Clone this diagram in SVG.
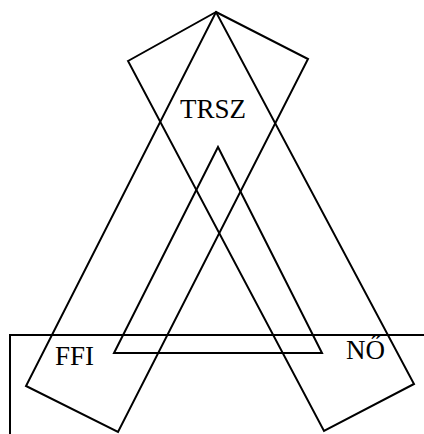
<svg xmlns="http://www.w3.org/2000/svg" width="424" height="434" viewBox="0 0 424 434">
  <style>
    .shape { fill: none; stroke: #000; stroke-width: 2; stroke-linejoin: miter; }
    .label { font-family: "Liberation Serif", "Times New Roman", serif; font-size: 27px; fill: #000; }
  </style>
  <rect width="424" height="434" fill="#fff"/>
  <g id="frame">
    <polyline class="shape" points="10,434 10,335 424,335"/>
  </g>
  <g id="band-right">
    <polygon class="shape" points="128,61 216,12 414,384 324,431"/>
  </g>
  <g id="band-left">
    <polygon class="shape" points="216,12 308,59 118,432 26,386"/>
  </g>
  <g id="triangle">
    <polygon class="shape" points="218,147 114,353 322,353"/>
  </g>
  <g id="TRSZ">
    <text class="label" x="180" y="118">TRSZ</text>
  </g>
  <g id="FFI">
    <text class="label" x="55" y="365">FFI</text>
  </g>
  <g id="NO">
    <text class="label" x="346" y="359">NŐ</text>
  </g>
</svg>
